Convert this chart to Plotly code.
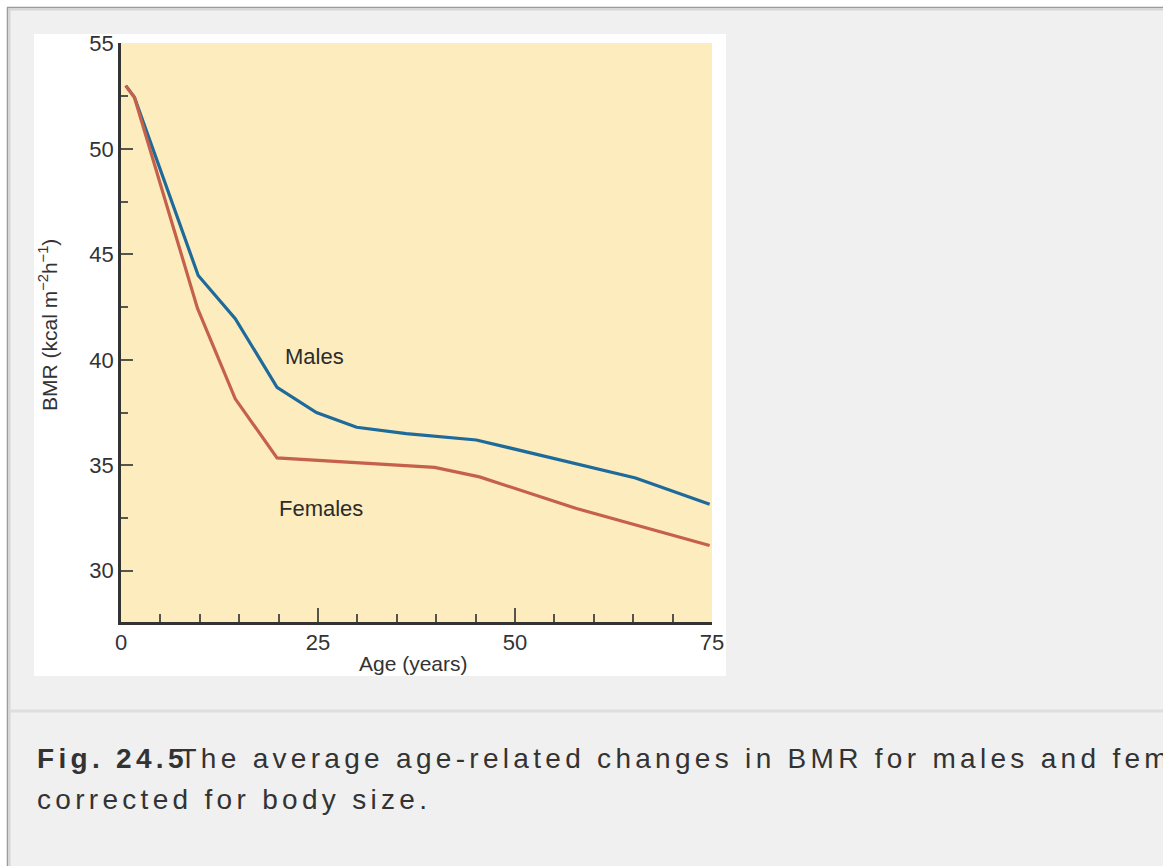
import plotly.graph_objects as go

# ---------------- data ----------------
males_age = [0.6, 1.7, 9.8, 14.5, 19.8, 24.8, 29.9, 36.2, 45.1, 65.3, 74.7]
males_bmr = [53.0, 52.45, 44.0, 41.95, 38.7, 37.5, 36.8, 36.5, 36.2, 34.4, 33.15]

females_age = [0.6, 1.7, 9.7, 14.5, 19.8, 39.8, 45.5, 57.8, 74.7]
females_bmr = [53.0, 52.45, 42.45, 38.15, 35.35, 34.9, 34.45, 32.95, 31.2]

x_ticks = [0, 25, 50, 75]
y_ticks = [30, 35, 40, 45, 50, 55]
x_range = [0, 75]
y_range = [27.57, 55.02]

series_labels = ["Males", "Females"]
label_pos_age = [24.6, 25.4]
label_pos_bmr = [40.16, 32.94]

x_title = "Age (years)"
y_title = "BMR (kcal m<sup>\u22122</sup>h<sup>\u22121</sup>)"
caption_fig = "Fig. 24."
caption_fig_last = "5"
caption_line1 = "The average age-related changes in BMR for males and females"
caption_line2 = "corrected for body size."

# ---------------- layout geometry ----------------
W, H = 1163, 866
L, R, T, B = 121, 451, 43, 244
PW = W - L - R
PH = H - T - B


def fx(x):
    return (x - L) / PW


def fy(y):
    return (H - B - y) / PH


FONT = "Liberation Sans, Arial, sans-serif"
TXT = "#333333"
AXC = "#333333"
TICKC = "#55554c"

fig = go.Figure()
fig.add_trace(go.Scatter(x=males_age, y=males_bmr, mode="lines",
                         line=dict(color="#1d6a9b", width=3.2),
                         name=series_labels[0], showlegend=False, hoverinfo="skip"))
fig.add_trace(go.Scatter(x=females_age, y=females_bmr, mode="lines",
                         line=dict(color="#c5604b", width=3.2),
                         name=series_labels[1], showlegend=False, hoverinfo="skip"))

shapes = [
    # page gray background inside border
    dict(type="rect", xref="paper", yref="paper", x0=fx(7), x1=fx(W + 5), y0=fy(7), y1=fy(H + 5),
         fillcolor="#f0f0f0", line=dict(width=0), layer="below"),
    # borders
    dict(type="line", xref="paper", yref="paper", x0=fx(7), x1=fx(W + 5), y0=fy(7.5), y1=fy(7.5),
         line=dict(color="#9b9b9b", width=1.5), layer="below"),
    dict(type="line", xref="paper", yref="paper", x0=fx(8), x1=fx(W + 5), y0=fy(9.5), y1=fy(9.5),
         line=dict(color="#d6d6d6", width=2), layer="below"),
    dict(type="line", xref="paper", yref="paper", x0=fx(7.5), x1=fx(7.5), y0=fy(7), y1=fy(H + 5),
         line=dict(color="#9b9b9b", width=1.5), layer="below"),
    dict(type="line", xref="paper", yref="paper", x0=fx(9.5), x1=fx(9.5), y0=fy(8), y1=fy(H + 5),
         line=dict(color="#d6d6d6", width=2), layer="below"),
    # white picture box
    dict(type="rect", xref="paper", yref="paper", x0=fx(34), x1=fx(726), y0=fy(34), y1=fy(676),
         fillcolor="#ffffff", line=dict(width=0), layer="below"),
    # yellow plotting area
    dict(type="rect", xref="paper", yref="paper", x0=0, x1=1, y0=0, y1=1,
         fillcolor="#fdecbe", line=dict(width=0), layer="below"),
    # separator
    dict(type="line", xref="paper", yref="paper", x0=fx(10), x1=fx(W + 5), y0=fy(711), y1=fy(711),
         line=dict(color="#dedede", width=3), layer="below"),
]

annotations = []
for lab, ax_, ay_ in zip(series_labels, label_pos_age, label_pos_bmr):
    annotations.append(dict(x=ax_, y=ay_, xref="x", yref="y", text=lab, showarrow=False,
                            font=dict(family=FONT, size=22, color="#2b2b2b"),
                            xanchor="center", yanchor="middle"))

annotations.append(dict(x=fx(48), y=fy(325), xref="paper", yref="paper", text=y_title,
                        textangle=-90, showarrow=False, xanchor="center", yanchor="middle",
                        font=dict(family=FONT, size=21, color=TXT)))
annotations.append(dict(x=fx(413), y=fy(663), xref="paper", yref="paper", text=x_title,
                        showarrow=False, xanchor="center", yanchor="middle",
                        font=dict(family=FONT, size=21, color=TXT)))

ls = "letter-spacing:4.3px"
line1 = (f'<span style="{ls}"><b>{caption_fig}</b></span>'
         f'<span style="letter-spacing:-4px"><b>{caption_fig_last}</b></span>'
         f'<span style="{ls}">{caption_line1}</span>')
line2 = f'<span style="{ls}">{caption_line2}</span>'
annotations.append(dict(x=fx(35), y=fy(758.5), xref="paper", yref="paper", text=line1,
                        showarrow=False, xanchor="left", yanchor="middle", align="left",
                        font=dict(family=FONT, size=28, color=TXT)))
annotations.append(dict(x=fx(35), y=fy(799.5), xref="paper", yref="paper", text=line2,
                        showarrow=False, xanchor="left", yanchor="middle", align="left",
                        font=dict(family=FONT, size=28, color=TXT)))

fig.update_layout(
    width=W, height=H,
    margin=dict(l=L, r=R, t=T, b=B, pad=0),
    paper_bgcolor="#ffffff",
    plot_bgcolor="#fdecbe",
    shapes=shapes,
    annotations=annotations,
    showlegend=False,
    font=dict(family=FONT, color=TXT),
    xaxis=dict(range=x_range, tickvals=x_ticks, ticks="inside", ticklen=14, tickwidth=1.5,
               tickcolor=TICKC, showline=True, linecolor=AXC, linewidth=2.5,
               showgrid=False, zeroline=False, ticklabelstandoff=-1,
               tickfont=dict(family=FONT, size=22, color=TXT),
               minor=dict(dtick=5, tick0=0, ticks="inside", ticklen=8, tickwidth=1.5,
                          tickcolor=TICKC, showgrid=False)),
    yaxis=dict(range=y_range, tickvals=y_ticks, ticks="inside", ticklen=12, tickwidth=1.5,
               tickcolor=TICKC, showline=True, linecolor=AXC, linewidth=2.5,
               showgrid=False, zeroline=False, ticklabelstandoff=0,
               tickfont=dict(family=FONT, size=22, color=TXT),
               minor=dict(dtick=2.5, tick0=0, ticks="inside", ticklen=7, tickwidth=1.5,
                          tickcolor=TICKC, showgrid=False)),
)

fig.write_html("out.html", config={"displayModeBar": False},
               post_script="document.body.style.margin='0';document.body.style.overflow='hidden';")
